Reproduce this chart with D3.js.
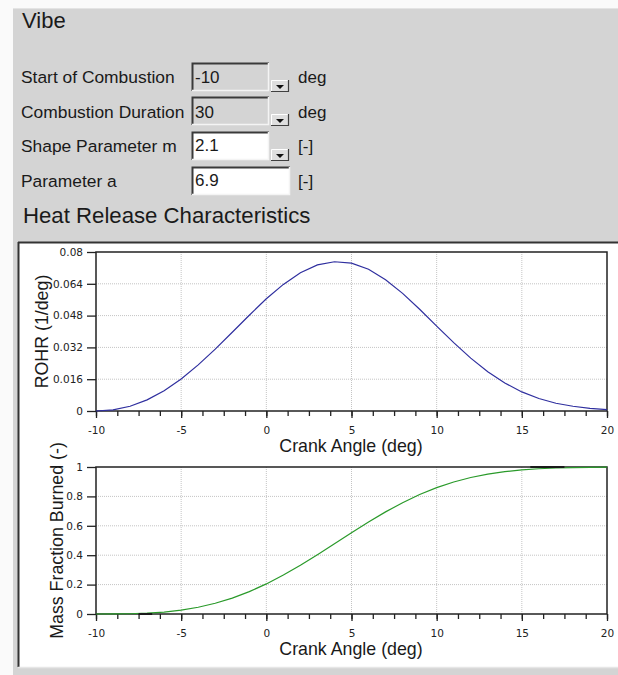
<!DOCTYPE html>
<html>
<head>
<meta charset="utf-8">
<script src="https://cdn.jsdelivr.net/npm/d3@7"></script>
<style>
  html, body { margin: 0; padding: 0; background: #fafafa; }
  svg { display: block; }
  .lbl { font-family: "Liberation Sans", Arial, sans-serif; fill: #1a1a1a; }
  .tick text { font-family: "DejaVu Sans", Verdana, sans-serif; font-size: 10.5px; fill: #222; }
</style>
</head>
<body>
<svg id="chart" width="618" height="675"></svg>
<script>
// ---------- data ----------
const formLabels = ["Start of Combustion", "Combustion Duration", "Shape Parameter m", "Parameter a"];
const formValues = ["-10", "30", "2.1", "6.9"];
const formUnits = ["deg", "deg", "[-]", "[-]"];
const formEditable = [false, false, true, true];
const formDropdown = [true, true, true, false];

const crankAngle = [-10, -9, -8, -7, -6, -5, -4, -3, -2, -1, 0, 1, 2, 3, 4, 5, 6, 7, 8, 9, 10,
                    11, 12, 13, 14, 15, 16, 17, 18, 19, 20];
const rohr = [0, 0.0006, 0.0024, 0.0056, 0.0102, 0.0161, 0.0232, 0.0311, 0.0396, 0.0482, 0.0565,
              0.0637, 0.0696, 0.0735, 0.0751, 0.0744, 0.0713, 0.0660, 0.0592, 0.0512, 0.0427,
              0.0344, 0.0266, 0.0198, 0.0141, 0.0096, 0.0063, 0.0039, 0.0024, 0.0013, 0.0007];
const mfb = [0, 0.0002, 0.0016, 0.0055, 0.0133, 0.0264, 0.0459, 0.0730, 0.1084, 0.1523, 0.2047,
             0.2648, 0.3317, 0.4033, 0.4779, 0.5528, 0.6257, 0.6947, 0.7573, 0.8126, 0.8596,
             0.8981, 0.9285, 0.9516, 0.9684, 0.9802, 0.9881, 0.9931, 0.9962, 0.9980, 0.9990];
const mfbMarkerSegments = [[-7.5, -6.7, 0], [15.5, 17.5, 1]];

const xTicks = [-10, -5, 0, 5, 10, 15, 20];
const xTickLabels = ["-10", "-5", "0", "5", "10", "15", "20"];
const xMinorTicks = d3.range(-10, 20.001, 1.25);
const rohrTicks = [0, 0.016, 0.032, 0.048, 0.064, 0.08];
const rohrTickLabels = ["0", "0.016", "0.032", "0.048", "0.064", "0.08"];
const mfbTicks = [0, 0.2, 0.4, 0.6, 0.8, 1];
const mfbTickLabels = ["0", "0.2", "0.4", "0.6", "0.8", "1"];

// ---------- page ----------
const svg = d3.select("#chart");
svg.append("rect").attr("x", 0).attr("y", 0).attr("width", 618).attr("height", 675).attr("fill", "#fafafa");
svg.append("rect").attr("x", 13).attr("y", 8).attr("width", 605).attr("height", 667).attr("fill", "#d4d4d4");
svg.append("line").attr("x1", 13).attr("x2", 618).attr("y1", 8.5).attr("y2", 8.5).attr("stroke", "#e4e4e4");

svg.append("text").attr("class", "lbl").attr("x", 22).attr("y", 28)
   .style("font-size", "22px").text("Vibe");

const rowBase = [83, 118, 152, 187];
const rowBoxTop = [63, 97, 132, 167];
formLabels.forEach((t, i) => {
  const g = svg.append("g");
  g.append("text").attr("class", "lbl").attr("x", 21).attr("y", rowBase[i])
   .style("font-size", "17.4px").text(t);
  const bx = 192, by = rowBoxTop[i], bw = formDropdown[i] ? 77 : 98, bh = 28;
  g.append("rect").attr("x", bx).attr("y", by).attr("width", bw).attr("height", bh)
   .attr("fill", formEditable[i] ? "#ffffff" : "#d4d4d4");
  g.append("path").attr("d", `M${bx + 0.5},${by + bh} L${bx + 0.5},${by + 0.5} L${bx + bw},${by + 0.5}`)
   .attr("fill", "none").attr("stroke", "#3a3a3a").attr("stroke-width", 2);
  g.append("path").attr("d", `M${bx + bw - 0.5},${by} L${bx + bw - 0.5},${by + bh - 0.5} L${bx},${by + bh - 0.5}`)
   .attr("fill", "none").attr("stroke", "#f4f4f4").attr("stroke-width", 1.5);
  g.append("text").attr("class", "lbl").attr("x", bx + 3).attr("y", rowBase[i] - (formEditable[i] ? 1 : 0))
   .style("font-size", "17px").text(formValues[i]);
  if (formDropdown[i]) {
    const dx = 271, dy = by + 17, dw = 18, dh = 12;
    g.append("rect").attr("x", dx).attr("y", dy).attr("width", dw).attr("height", dh).attr("fill", "#dedede");
    g.append("path").attr("d", `M${dx + 0.5},${dy + dh} L${dx + 0.5},${dy + 0.5} L${dx + dw},${dy + 0.5}`)
     .attr("fill", "none").attr("stroke", "#ffffff").attr("stroke-width", 1);
    g.append("path").attr("d", `M${dx + dw - 0.5},${dy} L${dx + dw - 0.5},${dy + dh - 0.5} L${dx},${dy + dh - 0.5}`)
     .attr("fill", "none").attr("stroke", "#404040").attr("stroke-width", 1.2);
    const cx = dx + dw / 2, cy = dy + dh / 2 + 1;
    g.append("path").attr("d", `M${cx - 4},${cy - 2} L${cx + 4},${cy - 2} L${cx},${cy + 2} Z`).attr("fill", "#111");
  }
  g.append("text").attr("class", "lbl").attr("x", 298).attr("y", rowBase[i])
   .style("font-size", "17px").text(formUnits[i]);
});

svg.append("text").attr("class", "lbl").attr("x", 23).attr("y", 223)
   .style("font-size", "22.2px").text("Heat Release Characteristics");

// chart area
svg.append("rect").attr("x", 18).attr("y", 242).attr("width", 600).attr("height", 425).attr("fill", "#ffffff");
svg.append("line").attr("x1", 18).attr("x2", 618).attr("y1", 242.5).attr("y2", 242.5).attr("stroke", "#333").attr("stroke-width", 2);
svg.append("line").attr("x1", 18.5).attr("x2", 18.5).attr("y1", 242).attr("y2", 667).attr("stroke", "#333").attr("stroke-width", 2);
svg.append("line").attr("x1", 18).attr("x2", 618).attr("y1", 667.5).attr("y2", 667.5).attr("stroke", "#e6e6e6").attr("stroke-width", 1.5);

// ---------- plots ----------
const x = d3.scaleLinear().domain([-10, 20]).range([96, 607]);

function drawPlot(cfg) {
  const y = d3.scaleLinear().domain(cfg.domain).range([cfg.bottom, cfg.top]);
  const g = svg.append("g");
  // grid
  g.selectAll(".vg").data(xTicks.slice(1, -1)).join("line")
   .attr("x1", d => x(d)).attr("x2", d => x(d)).attr("y1", cfg.top).attr("y2", cfg.bottom)
   .attr("stroke", "#c4c4c4").attr("stroke-width", 1).attr("stroke-dasharray", "1,1");
  g.selectAll(".hg").data(cfg.ticks.slice(1, -1)).join("line")
   .attr("x1", 96).attr("x2", 607).attr("y1", d => y(d)).attr("y2", d => y(d))
   .attr("stroke", "#c4c4c4").attr("stroke-width", 1).attr("stroke-dasharray", "1,1");

  // minor x ticks
  g.append("g").attr("transform", `translate(0,${cfg.bottom})`)
   .call(d3.axisBottom(x).tickValues(xMinorTicks).tickSize(5).tickFormat(""))
   .call(a => a.select(".domain").remove())
   .call(a => a.selectAll("line").attr("stroke", "#222").attr("stroke-width", 1.3));
  // major x axis
  g.append("g").attr("transform", `translate(0,${cfg.bottom})`)
   .call(d3.axisBottom(x).tickValues(xTicks).tickSize(7).tickPadding(9)
         .tickFormat((d, i) => xTickLabels[i]))
   .call(a => a.select(".domain").remove())
   .call(a => a.selectAll("line").attr("stroke", "#222").attr("stroke-width", 1.3));
  // y axis
  g.append("g").attr("transform", `translate(96,0)`)
   .call(d3.axisLeft(y).tickValues(cfg.ticks).tickSize(9).tickPadding(4)
         .tickFormat((d, i) => cfg.tickLabels[i]))
   .call(a => a.select(".domain").remove())
   .call(a => a.selectAll("line").attr("stroke", "#222").attr("stroke-width", 1.3));

  // frame
  g.append("rect").attr("x", 96).attr("y", cfg.top).attr("width", 511).attr("height", cfg.bottom - cfg.top)
   .attr("fill", "none").attr("stroke", "#222").attr("stroke-width", 1.5);

  // curve
  const line = d3.line().x((d, i) => x(crankAngle[i])).y(d => y(d));
  g.append("path").datum(cfg.values).attr("d", line)
   .attr("fill", "none").attr("stroke", cfg.color).attr("stroke-width", 1.2);

  // titles
  svg.append("text").attr("class", "lbl").attr("x", 351).attr("y", cfg.bottom + 41)
   .attr("text-anchor", "middle").style("font-size", "17.8px").text("Crank Angle (deg)");
  svg.append("text").attr("class", "lbl")
   .attr("transform", `translate(${cfg.titleX},${(cfg.top + cfg.bottom) / 2}) rotate(-90)`)
   .attr("text-anchor", "middle").style("font-size", "17.8px").text(cfg.yTitle);
  return { g, y };
}

drawPlot({ top: 252, bottom: 411, domain: [0, 0.08], ticks: rohrTicks, tickLabels: rohrTickLabels,
           values: rohr, color: "#2f2f9f", yTitle: "ROHR (1/deg)", titleX: 48 });

const p2 = drawPlot({ top: 467, bottom: 614, domain: [0, 1], ticks: mfbTicks, tickLabels: mfbTickLabels,
           values: mfb, color: "#2a9a2a", yTitle: "Mass Fraction Burned (-)", titleX: 63 });

p2.g.selectAll(".seg").data(mfbMarkerSegments).join("line")
  .attr("x1", d => x(d[0])).attr("x2", d => x(d[1]))
  .attr("y1", d => p2.y(d[2])).attr("y2", d => p2.y(d[2]))
  .attr("stroke", "#1a1a1a").attr("stroke-width", 2);
</script>
</body>
</html>
